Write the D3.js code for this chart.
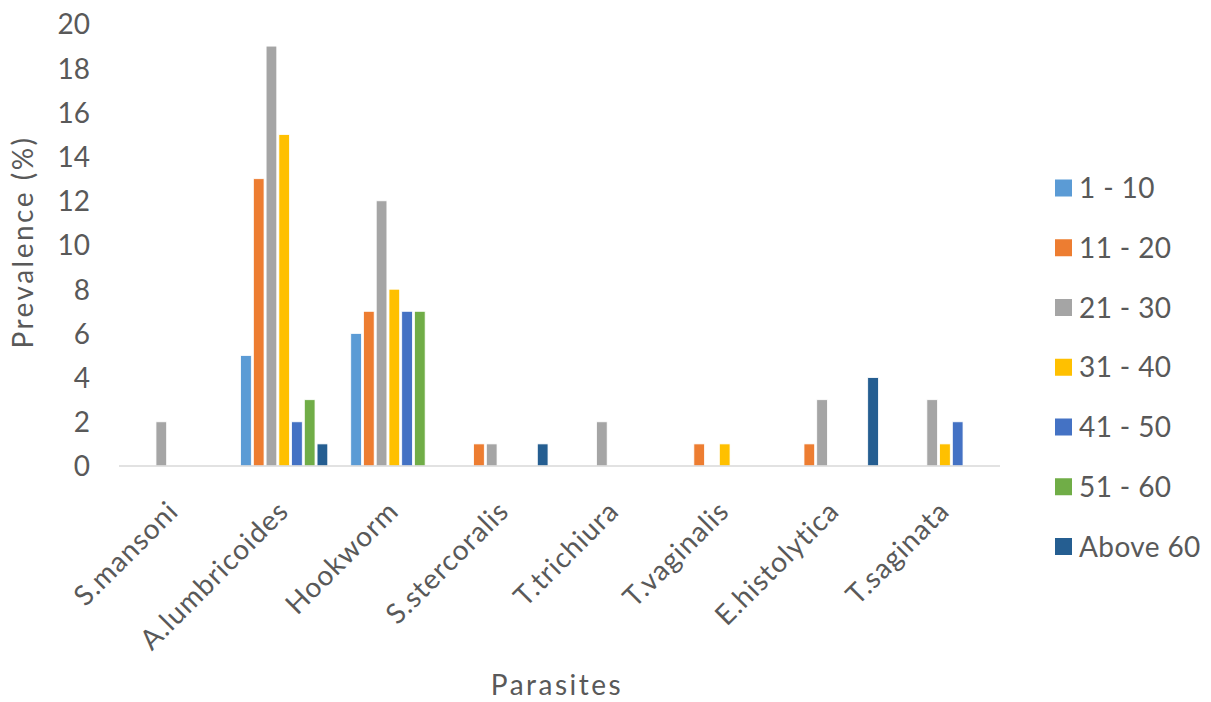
<!DOCTYPE html>
<html>
<head>
<meta charset="utf-8">
<script src="https://cdn.jsdelivr.net/npm/d3@7"></script>
<style>
  html, body { margin: 0; padding: 0; background: #fff; }
  svg { display: block; }
  text { font-family: Lato, "Open Sans", sans-serif; fill: #595959; }
</style>
</head>
<body>
<svg id="chart" width="1211" height="702"></svg>
<script>
// Parasite categories along the x axis
const parasites = ["S.mansoni", "A.lumbricoides", "Hookworm", "S.stercoralis",
                   "T.trichiura", "T.vaginalis", "E.histolytica", "T.saginata"];

// Age groups (one bar series each)
const ageGroups = ["1 - 10", "11 - 20", "21 - 30", "31 - 40", "41 - 50", "51 - 60", "Above 60"];

// Prevalence (%) for each age group, in parasite order
const age1to10   = [0, 5, 6, 0, 0, 0, 0, 0];
const age11to20  = [0, 13, 7, 1, 0, 1, 1, 0];
const age21to30  = [2, 19, 12, 1, 2, 0, 3, 3];
const age31to40  = [0, 15, 8, 0, 0, 1, 0, 1];
const age41to50  = [0, 2, 7, 0, 0, 0, 0, 2];
const age51to60  = [0, 3, 7, 0, 0, 0, 0, 0];
const ageAbove60 = [0, 1, 0, 1, 0, 0, 4, 0];

const yTicks = [0, 2, 4, 6, 8, 10, 12, 14, 16, 18, 20];

const seriesValues = [age1to10, age11to20, age21to30, age31to40, age41to50, age51to60, ageAbove60];
const colors = ["#5B9BD5", "#ED7D31", "#A5A5A5", "#FFC000", "#4472C4", "#70AD47", "#255E91"];

const FONT = "Lato, 'Open Sans', sans-serif";
const svg = d3.select("#chart");

const plot = { left: 119, right: 1000, top: 24, bottom: 466 };

const x0 = d3.scaleBand().domain(parasites).range([plot.left, plot.right]).padding(0);
const gap = x0.bandwidth() * 0.095;
const x1 = d3.scaleBand().domain(ageGroups).range([gap, x0.bandwidth() - gap]).padding(0);
const y = d3.scaleLinear().domain([0, 20]).range([plot.bottom, plot.top]);
const color = d3.scaleOrdinal().domain(ageGroups).range(colors);

// Bars
const rows = [];
parasites.forEach((p, i) => {
  ageGroups.forEach((g, j) => {
    rows.push({ parasite: p, group: g, value: seriesValues[j][i] });
  });
});

const barW = x1.bandwidth() * 0.84;
svg.append("g").selectAll("rect")
  .data(rows.filter(d => d.value > 0))
  .join("rect")
  .attr("x", d => x0(d.parasite) + x1(d.group) + (x1.bandwidth() - barW) / 2)
  .attr("y", d => y(d.value))
  .attr("width", barW)
  .attr("height", d => y(0) - y(d.value))
  .attr("fill", d => color(d.group))
  .attr("stroke", "#fff")
  .attr("stroke-width", 0.8);

// Baseline
svg.append("line")
  .attr("x1", plot.left).attr("x2", plot.right)
  .attr("y1", y(0)).attr("y2", y(0))
  .attr("stroke", "#D9D9D9").attr("stroke-width", 1.5);

// Y axis labels
const yAxis = d3.axisLeft(y).tickValues(yTicks).tickSize(0).tickPadding(0);
const gy = svg.append("g").attr("transform", "translate(90,0)").call(yAxis);
gy.select(".domain").remove();
gy.selectAll("text")
  .attr("font-size", 28)
  .attr("font-family", FONT)
  .attr("fill", "#595959")
  .attr("dy", "0.35em");

// X axis category labels, rotated
const xAxis = d3.axisBottom(x0).tickSize(0).tickPadding(0);
const gx = svg.append("g").attr("transform", `translate(0,${plot.bottom})`).call(xAxis);
gx.select(".domain").remove();
gx.selectAll("text")
  .attr("font-size", 28)
  .attr("font-family", FONT)
  .attr("fill", "#595959")
  .attr("letter-spacing", 1)
  .attr("text-anchor", "end")
  .attr("dy", 0)
  .attr("transform", "translate(6,47) rotate(-45)");

// Axis titles
svg.append("text")
  .attr("transform", "translate(33,242) rotate(-90)")
  .attr("text-anchor", "middle")
  .attr("font-size", 28)
  .attr("letter-spacing", 2.5)
  .text("Prevalence (%)");

svg.append("text")
  .attr("x", 557).attr("y", 695)
  .attr("text-anchor", "middle")
  .attr("font-size", 28)
  .attr("letter-spacing", 2.5)
  .text("Parasites");

// Legend
const legend = svg.append("g").selectAll("g")
  .data(ageGroups)
  .join("g")
  .attr("transform", (d, i) => `translate(1055,${188 + i * 59.75})`);
legend.append("rect")
  .attr("x", 0).attr("y", -8.5).attr("width", 17).attr("height", 17)
  .attr("fill", d => color(d));
legend.append("text")
  .attr("x", 24).attr("y", 10)
  .attr("font-size", 28)
  .attr("letter-spacing", 0.4)
  .text(d => d);
</script>
</body>
</html>
